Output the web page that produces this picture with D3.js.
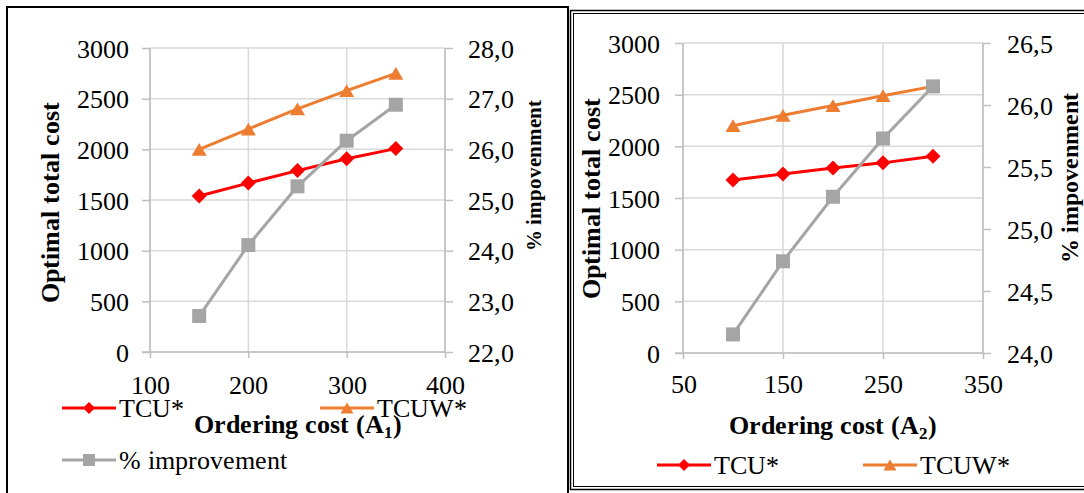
<!DOCTYPE html>
<html>
<head>
<meta charset="utf-8">
<script src="https://cdn.jsdelivr.net/npm/d3@7"></script>
<style>
  @font-face { font-family: "ChartSerif"; src: local("Liberation Serif"), local("LiberationSerif"), local("Liberation Serif Regular"); font-weight: 400; }
  @font-face { font-family: "ChartSerif"; src: local("Liberation Serif Bold"), local("LiberationSerif-Bold"); font-weight: 700; }
  html, body { margin: 0; padding: 0; background: #fff; }
  svg { display: block; }
</style>
</head>
<body>
<svg id="chart" width="1084" height="493"></svg>
<script>
// ---------- data ----------
const xA1 = [150, 200, 250, 300, 350];
const tcuA1 = [1540, 1667, 1790, 1907, 2007];
const tcuwA1 = [2000, 2200, 2400, 2580, 2750];
const impA1 = [22.71, 24.11, 25.27, 26.17, 26.88];

const xA2 = [100, 150, 200, 250, 300];
const tcuA2 = [1675, 1732, 1790, 1840, 1903];
const tcuwA2 = [2200, 2300, 2395, 2490, 2580];
const impA2 = [24.15, 24.74, 25.26, 25.73, 26.15];

const xTicksA1 = [100, 200, 300, 400];
const xTicksA2 = [50, 150, 250, 350];
const costTicks = [0, 500, 1000, 1500, 2000, 2500, 3000];
const impTicksA1 = [22, 23, 24, 25, 26, 27, 28];
const impTicksA2 = [24.0, 24.5, 25.0, 25.5, 26.0, 26.5];

const seriesNames = ["TCU*", "TCUW*", "% improvement"];
const colors = { tcu: "#ff0000", tcuw: "#ed7d31", imp: "#a5a5a5" };

const svg = d3.select("#chart");
const FACE = "ChartSerif, Liberation Serif, serif";
function serif(sel) {
  return sel.attr("font-family", FACE).style("font-family", FACE);
}

// panel frames
svg.append("rect").attr("x", 7).attr("y", 7).attr("width", 561).attr("height", 500)
  .attr("fill", "none").attr("stroke", "#000").attr("stroke-width", 2);
svg.append("rect").attr("x", 570.5).attr("y", 10.5).attr("width", 530).attr("height", 479)
  .attr("fill", "none").attr("stroke", "#000").attr("stroke-width", 1.5);
svg.append("rect").attr("x", 573.5).attr("y", 13.5).attr("width", 530).attr("height", 473)
  .attr("fill", "none").attr("stroke", "#000").attr("stroke-width", 1);

// marker shapes
function diamond(r) { return `M0,${-r}L${r},0L0,${r}L${-r},0Z`; }
function triangle(w) { const h = w * 0.85; return `M0,${-h/2}L${w/2},${h/2}L${-w/2},${h/2}Z`; }
function square(s) { return `M${-s/2},${-s/2}h${s}v${s}h${-s}Z`; }

const fmtComma = d => d3.format(".1f")(d).replace(".", ",");

function drawPanel(cfg) {
  const g = serif(svg.append("g"));
  const x = d3.scaleLinear().domain(cfg.xDomain).range([cfg.left, cfg.right]);
  const y = d3.scaleLinear().domain([0, 3000]).range([cfg.bottom, cfg.top]);
  const y2 = d3.scaleLinear().domain(cfg.impDomain).range([cfg.bottom, cfg.top]);

  // gridlines
  g.append("g").selectAll("line").data(costTicks).join("line")
    .attr("x1", cfg.left).attr("x2", cfg.right)
    .attr("y1", d => y(d)).attr("y2", d => y(d))
    .attr("stroke", "#d9d9d9").attr("stroke-width", 1.5);
  g.append("g").selectAll("line").data(cfg.xTicks).join("line")
    .attr("x1", d => x(d)).attr("x2", d => x(d))
    .attr("y1", cfg.top).attr("y2", cfg.bottom)
    .attr("stroke", "#d9d9d9").attr("stroke-width", 1.5);

  // axes
  const axisColor = "#bfbfbf";
  const left = g.append("g").attr("transform", `translate(${cfg.left},0)`)
    .call(d3.axisLeft(y).tickValues(costTicks).tickSize(8).tickFormat(d3.format("d")));
  const right = g.append("g").attr("transform", `translate(${cfg.right},0)`)
    .call(d3.axisRight(y2).tickValues(cfg.impTicks).tickSize(8).tickFormat(fmtComma));
  const bottom = g.append("g").attr("transform", `translate(0,${cfg.bottom})`)
    .call(d3.axisBottom(x).tickValues(cfg.xTicks).tickSize(6).tickFormat(d3.format("d")));
  [left, right, bottom].forEach(a => {
    serif(a).attr("font-size", 26);
    a.select(".domain").attr("stroke", axisColor).attr("stroke-width", 1.5);
    a.selectAll(".tick line").attr("stroke", axisColor).attr("stroke-width", 1.5);
    serif(a.selectAll("text")).attr("font-size", 26).attr("fill", "#000");
  });
  left.select(".domain").attr("d", `M0,${cfg.top}V${cfg.bottom}`);
  right.select(".domain").attr("d", `M0,${cfg.top}V${cfg.bottom}`);
  bottom.select(".domain").attr("d", `M${cfg.left - 8},0H${cfg.right}`);
  left.selectAll("text").attr("x", -(cfg.left - cfg.leftLabelX)).attr("dy", "0.35em");
  right.selectAll("text").attr("x", cfg.rightLabelX - cfg.right).attr("dy", "0.35em");
  bottom.selectAll("text").attr("y", cfg.xLabelBase - cfg.bottom).attr("dy", 0);

  // series
  const series = [
    { vals: cfg.tcu, scale: y, color: colors.tcu, shape: diamond(7.5) },
    { vals: cfg.tcuw, scale: y, color: colors.tcuw, shape: triangle(15) },
    { vals: cfg.imp, scale: y2, color: colors.imp, shape: square(14) }
  ];
  series.forEach(s => {
    const pts = cfg.xs.map((xv, i) => [x(xv), s.scale(s.vals[i])]);
    g.append("path").attr("d", d3.line()(pts))
      .attr("fill", "none").attr("stroke", s.color).attr("stroke-width", 3)
      .attr("stroke-linejoin", "round");
    g.append("g").selectAll("path").data(pts).join("path")
      .attr("transform", d => `translate(${d[0]},${d[1]})`)
      .attr("d", s.shape).attr("fill", s.color);
  });

  // axis titles
  serif(g.append("text"))
    .attr("transform", `translate(${cfg.yTitleX},${cfg.yTitleY}) rotate(-90)`)
    .attr("text-anchor", "middle").attr("font-weight", "bold").attr("font-size", 26)
    .text("Optimal total cost");
  serif(g.append("text"))
    .attr("transform", `translate(${cfg.y2TitleX},${cfg.y2TitleY}) rotate(-90)`)
    .attr("text-anchor", "middle").attr("font-weight", "bold").attr("font-size", cfg.y2TitleSize)
    .text("% impovenment");
  const xt = serif(g.append("text"))
    .attr("x", (cfg.left + cfg.right) / 2).attr("y", cfg.xTitleY)
    .attr("text-anchor", "middle").attr("font-weight", "bold").attr("font-size", 26);
  xt.append("tspan").text("Ordering cost (A");
  xt.append("tspan").attr("font-size", 17).attr("dy", 5).text(cfg.sub);
  xt.append("tspan").attr("dy", -5).text(")");

  // legend
  const legendShapes = [diamond(6), triangle(13), square(12)];
  const legendColors = [colors.tcu, colors.tcuw, colors.imp];
  cfg.legend.forEach(item => {
    const lg = g.append("g").attr("transform", `translate(${item.x},${item.y})`);
    lg.append("line").attr("x1", 0).attr("x2", 54).attr("y1", 0).attr("y2", 0)
      .attr("stroke", legendColors[item.i]).attr("stroke-width", 3);
    lg.append("path").attr("transform", "translate(27,0)").attr("d", legendShapes[item.i])
      .attr("fill", legendColors[item.i]);
    serif(lg.append("text")).attr("x", 57).attr("y", 0).attr("dy", "0.33em")
      .attr("font-size", 26).text(seriesNames[item.i]);
  });
}

drawPanel({
  xs: xA1, tcu: tcuA1, tcuw: tcuwA1, imp: impA1,
  xDomain: [100, 400], xTicks: xTicksA1,
  impDomain: [22, 28], impTicks: impTicksA1,
  left: 150, right: 445, top: 48, bottom: 352,
  leftLabelX: 129, rightLabelX: 468, xLabelBase: 394,
  yTitleX: 59, yTitleY: 202, y2TitleX: 541, y2TitleY: 175, y2TitleSize: 21,
  xTitleY: 433, sub: "1",
  legend: [{ i: 0, x: 62, y: 408 }, { i: 1, x: 320, y: 408 }, { i: 2, x: 62, y: 460 }]
});

drawPanel({
  xs: xA2, tcu: tcuA2, tcuw: tcuwA2, imp: impA2,
  xDomain: [50, 350], xTicks: xTicksA2,
  impDomain: [24, 26.5], impTicks: impTicksA2,
  left: 683, right: 983, top: 43, bottom: 353,
  leftLabelX: 660, rightLabelX: 1007, xLabelBase: 393,
  yTitleX: 600, yTitleY: 198, y2TitleX: 1078, y2TitleY: 178, y2TitleSize: 24,
  xTitleY: 434, sub: "2",
  legend: [{ i: 0, x: 657, y: 465 }, { i: 1, x: 863, y: 465 }]
});
</script>
</body>
</html>
